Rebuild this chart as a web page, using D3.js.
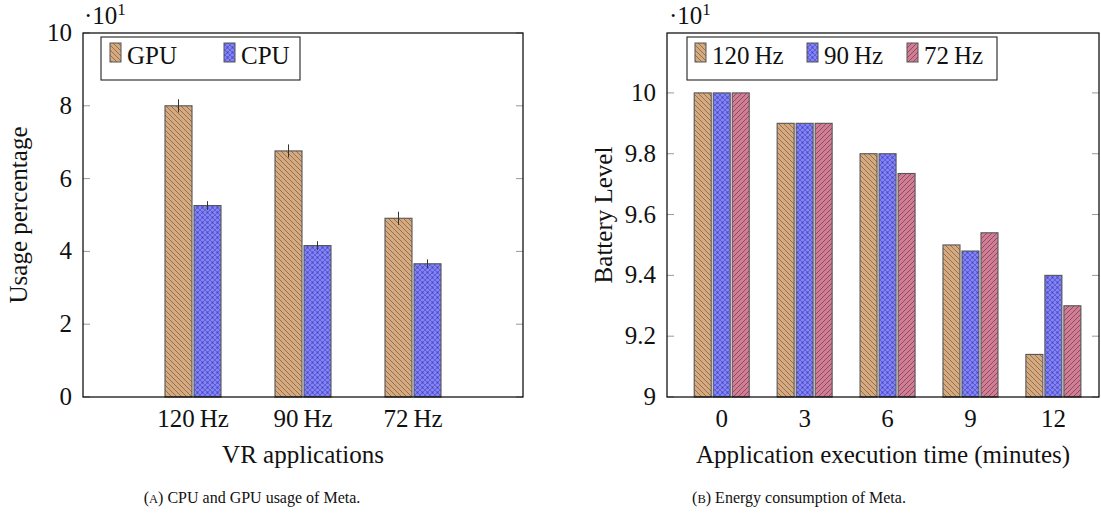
<!DOCTYPE html>
<html>
<head>
<meta charset="utf-8">
<script src="https://cdn.jsdelivr.net/npm/d3@7"></script>
<style>
  body { margin: 0; background: #fff; }
  text { font-family: "Liberation Serif", serif; fill: #111; }
</style>
</head>
<body>
<svg id="chart" width="1101" height="519"></svg>
<script>
// left chart: usage (x10)
var apps = ["120\u2009Hz", "90\u2009Hz", "72\u2009Hz"];
var gpuUsage = [8.0, 6.76, 4.91];
var cpuUsage = [5.26, 4.16, 3.66];
var gpuErr = [0.18, 0.18, 0.18];
var cpuErr = [0.12, 0.12, 0.12];
var usageTicks = [0, 2, 4, 6, 8, 10];

// right chart: battery level (x10)
var minutes = [0, 3, 6, 9, 12];
var bat120 = [10, 9.9, 9.8, 9.5, 9.14];
var bat90 = [10, 9.9, 9.8, 9.48, 9.4];
var bat72 = [10, 9.9, 9.735, 9.54, 9.3];
var batteryTicks = [9, 9.2, 9.4, 9.6, 9.8, 10];
var rateNames = ["120\u2009Hz", "90\u2009Hz", "72\u2009Hz"];

var svg = d3.select("#chart");
var defs = svg.append("defs");

function linePattern(id, bg, fg, dir) {
    var p = defs.append("pattern").attr("id", id)
        .attr("patternUnits", "userSpaceOnUse")
        .attr("width", 5).attr("height", 5);
    p.append("rect").attr("width", 5).attr("height", 5).attr("fill", bg);
    var d = dir == "nw"
        ? "M0,0L5,5M-1,4L1,6M4,-1L6,1"
        : "M0,5L5,0M-1,1L1,-1M4,6L6,4";
    p.append("path").attr("d", d).attr("stroke", fg).attr("stroke-width", 0.9);
}
function dotPattern(id, bg, fg) {
    var p = defs.append("pattern").attr("id", id)
        .attr("patternUnits", "userSpaceOnUse")
        .attr("width", 5).attr("height", 5);
    p.append("rect").attr("width", 5).attr("height", 5).attr("fill", bg);
    p.append("path").attr("d", "M0,0L5,5M0,5L5,0")
        .attr("stroke", fg).attr("stroke-width", 0.6);
    p.append("circle").attr("cx", 2.5).attr("cy", 2.5).attr("r", 0.9).attr("fill", fg);
}
linePattern("tan", "#d6aa80", "#8c6a48", "nw");
dotPattern("blue", "#8282fa", "#4646b4");
linePattern("pink", "#cf7e96", "#8a4558", "ne");

var plotTop = 33, plotBottom = 397;

function frame(x0, x1) {
    svg.append("rect").attr("x", x0).attr("y", plotTop)
        .attr("width", x1 - x0).attr("height", plotBottom - plotTop)
        .attr("fill", "none").attr("stroke", "#000").attr("stroke-width", 1.2);
}

function yTicks(y, ticks, x0, x1, fmt) {
    var g = svg.append("g");
    ticks.forEach(function(t) {
        g.append("line").attr("x1", x0).attr("x2", x0 + 7)
            .attr("y1", y(t)).attr("y2", y(t)).attr("stroke", "#999");
        g.append("line").attr("x1", x1 - 7).attr("x2", x1)
            .attr("y1", y(t)).attr("y2", y(t)).attr("stroke", "#999");
        g.append("text").attr("x", x0 - 11).attr("y", y(t) + 8)
            .attr("text-anchor", "end").attr("font-size", 25).text(fmt(t));
    });
}

function multiplier(x) {
    var t = svg.append("text").attr("x", x).attr("y", 24).attr("font-size", 25);
    t.append("tspan").text("\u00b710");
    t.append("tspan").attr("font-size", 17).attr("dy", -9).text("1");
}

function bar(x, w, yv, y, fill) {
    svg.append("rect").attr("x", x - w / 2).attr("y", y(yv))
        .attr("width", w).attr("height", plotBottom - y(yv))
        .attr("fill", "url(#" + fill + ")")
        .attr("stroke", "#555").attr("stroke-width", 1.1);
}

function legendItem(x, fill, label) {
    svg.append("rect").attr("x", x).attr("y", 43).attr("width", 11).attr("height", 19)
        .attr("fill", "url(#" + fill + ")").attr("stroke", "#555");
    svg.append("text").attr("x", x + 17).attr("y", 64).attr("font-size", 25).text(label);
}

// ---- left chart ----
var xL = d3.scaleLinear().domain([-1, 3]).range([83, 523]);
var yL = d3.scaleLinear().domain([0, 10]).range([plotBottom, plotTop]);

yTicks(yL, usageTicks, 83, 523, function(d) { return d; });

apps.forEach(function(a, i) {
    bar(xL(i) - 14.5, 27, gpuUsage[i], yL, "tan");
    bar(xL(i) + 14.5, 27, cpuUsage[i], yL, "blue");
    svg.append("line").attr("x1", xL(i) - 14.5).attr("x2", xL(i) - 14.5)
        .attr("y1", yL(gpuUsage[i] + gpuErr[i])).attr("y2", yL(gpuUsage[i] - gpuErr[i]))
        .attr("stroke", "#333");
    svg.append("line").attr("x1", xL(i) + 14.5).attr("x2", xL(i) + 14.5)
        .attr("y1", yL(cpuUsage[i] + cpuErr[i])).attr("y2", yL(cpuUsage[i] - cpuErr[i]))
        .attr("stroke", "#333");
    svg.append("text").attr("x", xL(i)).attr("y", 427)
        .attr("text-anchor", "middle").attr("font-size", 25).text(a);
});
frame(83, 523);
multiplier(84);

svg.append("rect").attr("x", 101).attr("y", 37).attr("width", 199).attr("height", 43)
    .attr("fill", "#fff").attr("stroke", "#222").attr("stroke-width", 1.1);
legendItem(110, "tan", "GPU");
legendItem(224, "blue", "CPU");

svg.append("text").attr("x", 303).attr("y", 463).attr("text-anchor", "middle")
    .attr("font-size", 25).text("VR applications");
svg.append("text").attr("transform", "translate(27,215) rotate(-90)")
    .attr("text-anchor", "middle").attr("font-size", 25).text("Usage percentage");

// ---- right chart ----
var xR = d3.scaleLinear().domain([-1.98, 13.65]).range([667, 1099]);
var yR = d3.scaleLinear().domain([9, 10.197]).range([plotBottom, plotTop]);

yTicks(yR, batteryTicks, 667, 1099, function(d) { return d3.format("~g")(d); });

var series = [bat120, bat90, bat72];
var fills = ["tan", "blue", "pink"];
minutes.forEach(function(m, i) {
    series.forEach(function(s, k) {
        bar(xR(m) + (k - 1) * 19, 17, s[i], yR, fills[k]);
    });
    svg.append("text").attr("x", xR(m)).attr("y", 427)
        .attr("text-anchor", "middle").attr("font-size", 25).text(m);
});
frame(667, 1099);
multiplier(669);

svg.append("rect").attr("x", 687).attr("y", 37).attr("width", 310).attr("height", 43)
    .attr("fill", "#fff").attr("stroke", "#222").attr("stroke-width", 1.1);
var legX = [695, 807, 907];
rateNames.forEach(function(r, k) { legendItem(legX[k], fills[k], r); });

svg.append("text").attr("x", 883).attr("y", 463).attr("text-anchor", "middle")
    .attr("font-size", 25).text("Application execution time (minutes)");
svg.append("text").attr("transform", "translate(612,215) rotate(-90)")
    .attr("text-anchor", "middle").attr("font-size", 25).text("Battery Level");

// captions
function caption(x, letter, rest) {
    var t = svg.append("text").attr("x", x).attr("y", 503)
        .attr("text-anchor", "middle").attr("font-size", 16);
    t.append("tspan").text("(");
    t.append("tspan").attr("font-size", 12.5).text(letter);
    t.append("tspan").text(") " + rest);
}
caption(252, "A", "CPU and GPU usage of Meta.");
caption(799, "B", "Energy consumption of Meta.");
</script>
</body>
</html>
